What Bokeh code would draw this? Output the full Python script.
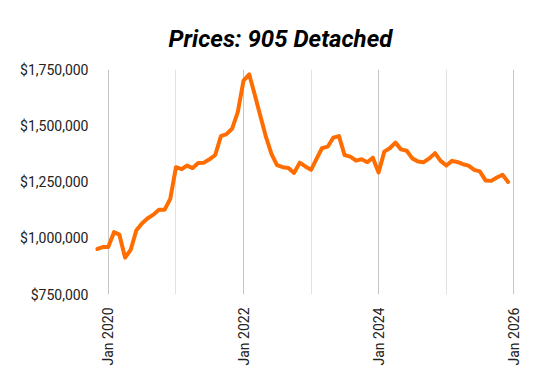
import math
import pandas as pd
from bokeh.plotting import figure
from bokeh.models import (Range1d, FixedTicker, DatetimeTickFormatter,
                          NumeralTickFormatter, ColumnDataSource)
from bokeh.embed import file_html
from bokeh.resources import INLINE

# ---- data ----
title_text = "Prices: 905 Detached"
start_month = "2019-11-01"
prices = [
    952000, 961000,
    961000, 1027000, 1016000, 914000, 948000, 1036000,
    1066000, 1089000, 1105000, 1127000, 1127000, 1175000,
    1316000, 1307000, 1323000, 1312000, 1334000, 1336000,
    1351000, 1370000, 1454000, 1463000, 1488000, 1561000,
    1701000, 1728000, 1643000, 1547000, 1454000, 1375000,
    1325000, 1316000, 1312000, 1290000, 1336000, 1319000,
    1304000, 1355000, 1400000, 1407000, 1447000, 1454000,
    1370000, 1363000, 1345000, 1351000, 1338000, 1358000,
    1292000, 1385000, 1400000, 1425000, 1395000, 1389000,
    1355000, 1341000, 1338000, 1355000, 1378000, 1344000,
    1323000, 1344000, 1339000, 1329000, 1323000, 1304000,
    1297000, 1257000, 1255000, 1270000, 1282000, 1250000,
]
months = pd.date_range(start_month, periods=len(prices), freq="MS")
major_tick_dates = ["2020-01-01", "2022-01-01", "2024-01-01", "2026-01-01"]
minor_tick_dates = ["2021-01-01", "2023-01-01", "2025-01-01"]
y_ticks = [750000, 1000000, 1250000, 1500000, 1750000]
x_start, x_end = "2019-10-24", "2026-02-06"


def ms(d):
    return pd.Timestamp(d).value / 1e6


source = ColumnDataSource(dict(x=months, y=prices))

p = figure(width=552, height=371, x_axis_type="datetime",
           output_backend="svg", toolbar_location=None,
           x_range=Range1d(ms(x_start), ms(x_end)),
           y_range=Range1d(y_ticks[0], y_ticks[-1]),
           min_border_left=95, min_border_right=32,
           min_border_top=69, min_border_bottom=77)
p.outline_line_color = None
p.background_fill_color = "white"
p.border_fill_color = "white"

p.title.text = title_text
p.title.align = "left"
p.title.offset = 73
p.title.standoff = 33
p.title.text_font = "Roboto"
p.title.text_font_size = "24px"
p.title.text_font_style = "bold italic"
p.title.text_color = "#000000"

p.line("x", "y", source=source, line_color="#ff6d01", line_width=4,
       line_join="round", line_cap="round")

# x axis
p.xaxis.ticker = FixedTicker(ticks=[ms(d) for d in major_tick_dates],
                             minor_ticks=[ms(d) for d in minor_tick_dates])
p.xaxis.formatter = DatetimeTickFormatter(
    years="%b %Y", months="%b %Y", days="%b %Y", hours="%b %Y")
p.xaxis.major_label_orientation = math.pi / 2
p.xaxis.axis_line_color = None
p.xaxis.major_tick_line_color = None
p.xaxis.minor_tick_line_color = None
p.xaxis.major_tick_out = 0
p.xaxis.major_tick_in = 0
p.xaxis.major_label_standoff = 9
p.xaxis.major_label_text_font = "Roboto"
p.xaxis.major_label_text_font_size = "14px"
p.xaxis.major_label_text_color = "#222222"

# y axis
p.yaxis.ticker = FixedTicker(ticks=y_ticks)
p.yaxis.formatter = NumeralTickFormatter(format="$0,0")
p.yaxis.axis_line_color = None
p.yaxis.major_tick_line_color = None
p.yaxis.minor_tick_line_color = None
p.yaxis.major_tick_out = 0
p.yaxis.major_tick_in = 0
p.yaxis.major_label_standoff = 7
p.yaxis.major_label_text_font = "Roboto"
p.yaxis.major_label_text_font_size = "14px"
p.yaxis.major_label_text_color = "#222222"

# grids
p.ygrid.grid_line_color = None
p.xgrid.grid_line_color = "#c6c6c6"
p.xgrid.minor_grid_line_color = "#e2e2e2"

open("out.html", "w").write(file_html(p, INLINE))
